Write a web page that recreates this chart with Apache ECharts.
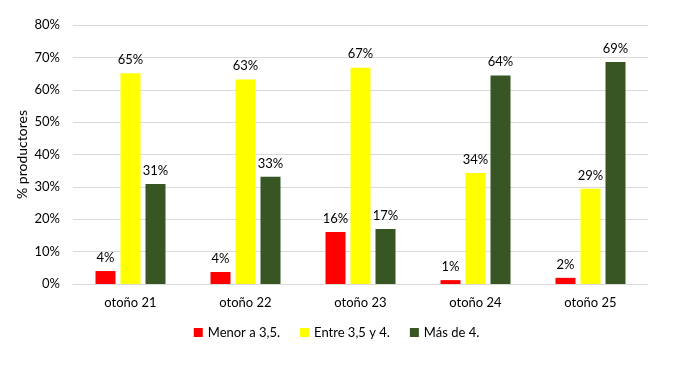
<!DOCTYPE html>
<html><head><meta charset="utf-8">
<script src="https://cdn.jsdelivr.net/npm/echarts@6/dist/echarts.min.js"></script>
<style>html,body{margin:0;padding:0;background:#fff}#c{width:673px;height:370px}</style>
</head><body><div id="c"></div>
<script>
var categories = ['otoño 21','otoño 22','otoño 23','otoño 24','otoño 25'];
var seriesNames = ['Menor a 3,5.','Entre 3,5 y 4.','Más de 4.'];
var menor = [4.0, 3.7, 16.1, 1.2, 1.9];
var entre = [65.1, 63.2, 66.8, 34.3, 29.4];
var mas = [30.9, 33.1, 17.0, 64.4, 68.6];
var yTicks = [0,10,20,30,40,50,60,70,80];
var colors = ['#FF0000','#FFFF00','#375623'];
var font = 'Lato, "Open Sans", sans-serif';
var chart = echarts.init(document.getElementById('c'));
function mk(name, data, color){
  return {name:name,type:'bar',data:data,barWidth:20,barGap:'25%',
    itemStyle:{color:color},
    label:{show:true,position:'top',distance:7,color:'#000',fontSize:13,fontFamily:font,
      formatter:function(p){return Math.round(p.value)+'%';}}};
}
chart.setOption({
  animation:false,
  textStyle:{fontFamily:font},
  grid:{left:73,right:25,top:25,bottom:86},
  legend:{bottom:26,left:'center',itemWidth:9,itemHeight:9,itemGap:20,icon:'rect',
    textStyle:{fontSize:13,color:'#000',fontFamily:font},data:seriesNames},
  xAxis:{type:'category',data:categories,
    axisLine:{lineStyle:{color:'#d9d9d9'}},axisTick:{show:false},
    axisLabel:{color:'#000',fontSize:13,margin:12,fontFamily:font}},
  yAxis:{type:'value',min:yTicks[0],max:yTicks[yTicks.length-1],interval:10,
    name:'% productores',nameLocation:'middle',nameRotate:90,nameGap:44,nameMoveOverlap:false,
    nameTextStyle:{fontSize:14,color:'#000',fontFamily:font},
    axisLine:{show:false},axisTick:{show:false},
    splitLine:{lineStyle:{color:'#d9d9d9'}},
    axisLabel:{color:'#000',fontSize:13,margin:13,fontFamily:font,formatter:'{value}%'}},
  series:[mk(seriesNames[0],menor,colors[0]),mk(seriesNames[1],entre,colors[1]),mk(seriesNames[2],mas,colors[2])]
});
</script></body></html>
